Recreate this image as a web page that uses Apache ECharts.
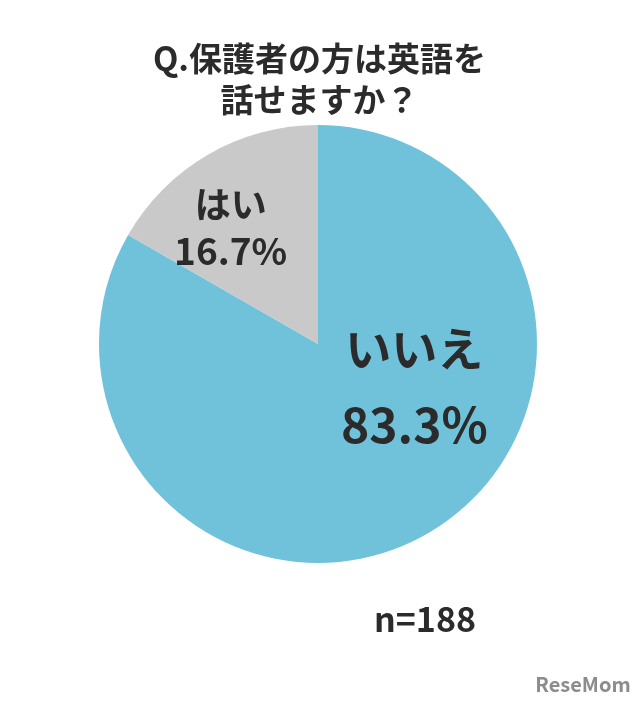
<!DOCTYPE html>
<html>
<head>
<meta charset="utf-8">
<script src="https://cdn.jsdelivr.net/npm/echarts@6/dist/echarts.min.js"></script>
<style>html,body{margin:0;padding:0;background:#fff}#c{width:639px;height:704px}</style>
</head>
<body>
<div id="c"></div>
<script>
const categories = ['いいえ', 'はい'];
const values = [83.3, 16.7];
const titleText = 'Q.保護者の方は英語を\n話せますか？';
const noteText = 'n=188';
const logoText = 'ReseMom';

const colors = ['#70c2db', '#c9c9c9'];
const labelOffsets = [[40, -55], [-31, -19]];
const FONT = '"Noto Sans CJK JP", "Noto Sans", sans-serif';

const chart = echarts.init(document.getElementById('c'));
chart.setOption({
  backgroundColor: '#ffffff',
  animation: false,
  title: [
    {
      text: titleText, left: 'center', top: 33,
      textStyle: { fontFamily: FONT, fontSize: 33, fontWeight: 'bold', color: '#2b2b2b', lineHeight: 41 }
    },
    {
      text: noteText, left: 420, top: 597, textAlign: 'center',
      textStyle: { fontFamily: FONT, fontSize: 34, fontWeight: 'bold', color: '#2b2b2b' }
    },
    {
      text: logoText, left: 578, top: 669, textAlign: 'center',
      textStyle: { fontFamily: FONT, fontSize: 20, fontWeight: 'bold', color: '#8c8c8c' }
    }
  ],
  series: [{
    type: 'pie',
    center: [318, 344],
    radius: [0, 219],
    startAngle: 90,
    clockwise: true,
    silent: true,
    labelLine: { show: false },
    data: categories.map((name, i) => ({
      name, value: values[i],
      itemStyle: { color: colors[i] },
      label: {
        show: true, position: 'inside', offset: labelOffsets[i],
        formatter: (p) => '{' + (i === 0 ? 'a' : 'c') + '|' + p.name + '}\n{' + (i === 0 ? 'b' : 'd') + '|' + p.value.toFixed(1) + '%}',
        rich: {
          a: { fontFamily: FONT, fontSize: 46, fontWeight: 'bold', color: '#2b2b2b', lineHeight: 76, align: 'center' },
          b: { fontFamily: FONT, fontSize: 48, fontWeight: 'bold', color: '#2b2b2b', lineHeight: 76, align: 'center' },
          c: { fontFamily: FONT, fontSize: 36, fontWeight: 'bold', color: '#2b2b2b', lineHeight: 47, align: 'center' },
          d: { fontFamily: FONT, fontSize: 37, fontWeight: 'bold', color: '#2b2b2b', lineHeight: 47, align: 'center' }
        }
      }
    }))
  }]
});
</script>
</body>
</html>
